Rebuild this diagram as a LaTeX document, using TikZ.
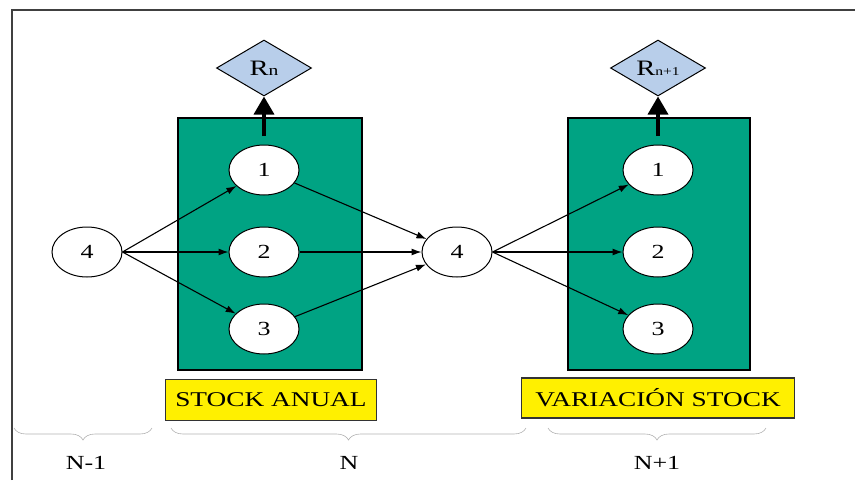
\documentclass[tikz,border=0pt]{standalone}
\usepackage{fontspec}
\setmainfont[FakeStretch=1.3]{Liberation Serif}
\usetikzlibrary{arrows.meta,shapes.geometric,decorations.pathreplacing}
\definecolor{stockgreen}{RGB}{0,163,131}
\definecolor{resblue}{RGB}{184,206,234}
\definecolor{tagyellow}{RGB}{255,240,0}
\tikzset{
  year/.style={ellipse,draw,fill=white,line width=1pt,minimum width=70pt,minimum height=50pt,inner sep=0pt,font=\fontsize{20}{24}\selectfont},
  result/.style={diamond,draw,fill=resblue,line width=1pt,minimum width=95pt,minimum height=56pt,aspect=1.7,inner sep=0pt,font=\fontsize{22}{24}\selectfont},
  tag/.style={draw=black!80,fill=tagyellow,line width=1.5pt,inner sep=0pt,font=\fontsize{21}{24}\selectfont},
  period/.style={decorate,decoration={brace,mirror,amplitude=12pt},draw=gray!60,line width=0.6pt},
}
\begin{document}
\begin{tikzpicture}[x=1pt,y=-1pt]
		\useasboundingbox (0,0) rectangle (855,480);
		\draw[black!75,line width=2pt] (12,480) -- (12,10) -- (855,10);
		%
		\draw[fill=stockgreen,line width=1.2pt] (178,118) rectangle (362,370);
		\draw[fill=stockgreen,line width=1.2pt] (568,118) rectangle (750,370);
		%
		\node[year] (P) at (87,252) {4};
		\node[year] (A1) at (264,170) {1};
		\node[year] (A2) at (264,252) {2};
		\node[year] (A3) at (264,329) {3};
		\node[year] (Q) at (457,252) {4};
		\node[year] (B1) at (658,170) {1};
		\node[year] (B2) at (658,252) {2};
		\node[year] (B3) at (658,329) {3};
		%
		\node[result] (RA) at (264,68) {R{\fontsize{15}{15}\selectfont n}};
		\node[result] (RB) at (658,68) {R{\fontsize{12}{12}\selectfont n+1}};
		\coordinate (RA') at (264,136);
		\coordinate (RB') at (658,136);
		%
		\path[-{Latex[length=10pt,width=7pt]},line width=1.1pt]
		(P.east) edge (A1)
		(P.east) edge (A2)
		(P.east) edge (A3)
		(A1) edge (Q)
		(A2) edge (Q)
		(A3) edge (Q)
		(Q.east) edge (B1)
		(Q.east) edge (B2)
		(Q.east) edge (B3);
		\draw[-{Triangle[length=18pt,width=20pt]},line width=3.5pt] (RA') -- (RA.south);
		\draw[-{Triangle[length=18pt,width=20pt]},line width=3.5pt] (RB') -- (RB.south);
		%
		\node[tag,minimum width=211pt,minimum height=41pt] (TA) at (271,400) {STOCK ANUAL};
		\node[tag,minimum width=273pt,minimum height=40pt] (TB) at (658,398) {VARIACIÓN STOCK};
		%
		\draw[period] (14,428) -- (152,428);
		\draw[period] (171,428) -- (526,428);
		\draw[period] (548,428) -- (766,428);
		\node[font=\fontsize{20}{24}\selectfont] (L0) at (86,463) {N-1};
		\node[font=\fontsize{20}{24}\selectfont] (L1) at (349,463) {N};
		\node[font=\fontsize{20}{24}\selectfont] (L2) at (657,463) {N+1};
\end{tikzpicture}
\end{document}
